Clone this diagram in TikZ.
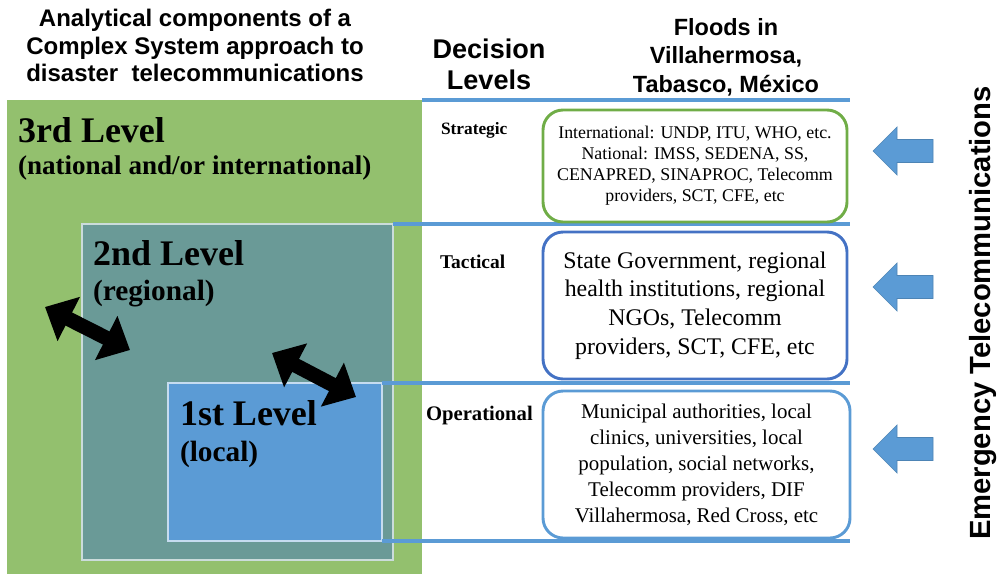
\documentclass[tikz,border=0pt]{standalone}
\usepackage{fontspec}
\setmainfont{Liberation Serif}
\newfontfamily\headfont{Liberation Sans}
\usepackage{tikz}
\usetikzlibrary{positioning, arrows.meta}

\definecolor{thirdgreen}{HTML}{93C06E}
\definecolor{secondteal}{HTML}{6A9A97}
\definecolor{firstblue}{HTML}{5B9BD5}
\definecolor{stratgreen}{HTML}{70AD47}
\definecolor{tactblue}{HTML}{4472C4}
\definecolor{operblue}{HTML}{5B9BD5}
\definecolor{ruleblue}{HTML}{5B9BD5}

\begin{document}
\begin{tikzpicture}[
        x = 0.75pt, y = -0.75pt,
        every node/.style = {inner sep = 0pt, outer sep = 0pt},
        heading/.style = {
            align = center,
            anchor = north,
            font = \headfont\bfseries\fontsize{18pt}{20.6pt}\selectfont
        },
        levelbox/.style = {rectangle, line width = 0.9pt},
        lvlhead/.style = {
            anchor = base west,
            font = \bfseries\fontsize{27pt}{30pt}\selectfont
        },
        lvlsub/.style = {
            anchor = base west,
            font = \bfseries\fontsize{22pt}{26pt}\selectfont
        },
        decision/.style = {
            anchor = base west,
            font = \bfseries\fontsize{14.6pt}{17pt}\selectfont
        },
        infobox/.style = {
            draw,
            rectangle,
            rounded corners = 15pt,
            line width = 2.2pt,
            align = center,
            minimum width = 228pt
        },
        rule/.style = {draw = ruleblue, line width = 2.3pt},
        linkarrow/.style = {
            line width = 11pt,
            {Triangle[length = 20pt, width = 36pt]}-{Triangle[length = 20pt, width = 36pt]}
        },
        inarrow/.style = {fill = firstblue, draw = firstblue!85!black, line width = 0.5pt}
    ]
        \useasboundingbox (0,0) rectangle (999,574);

        % nested levels
        \node[levelbox, fill = thirdgreen, minimum width = 311.25pt, minimum height = 355.5pt] (third) at (214.5,337) {};
        \node[levelbox, fill = secondteal, draw = white!65!secondteal, minimum width = 233.25pt, minimum height = 252pt] (second) at (237.5,392) {};
        \node[levelbox, fill = firstblue, draw = white!65!firstblue, minimum width = 160.5pt, minimum height = 118.5pt] (first) at (275,462) {};

        \node[lvlhead] (thirdname) at (18,143) {3rd Level};
        \node[lvlsub, font = \bfseries\fontsize{20.3pt}{24pt}\selectfont] (thirdscope) at (18,175) {(national and/or international)};
        \node[lvlhead] (secondname) at (93,265) {2nd Level};
        \node[lvlsub] (secondscope) at (93,300) {(regional)};
        \node[lvlhead] (firstname) at (180,425) {1st Level};
        \node[lvlsub] (firstscope) at (180,461) {(local)};

        % links between levels
        \coordinate (outerA) at (45,307);
        \coordinate (outerB) at (130,350);
        \coordinate (innerA) at (272,353);
        \coordinate (innerB) at (356,397);
        \draw[linkarrow] (outerA) -- (outerB);
        \draw[linkarrow] (innerA) -- (innerB);

        % headings
        \node[heading] (title) at (195,9.5) {Analytical components of a\\ Complex System approach to\\ disaster\ \ telecommunications};
        \node[heading, font = \headfont\bfseries\fontsize{20.3pt}{23.3pt}\selectfont] (levels) at (489,38.5) {Decision\\ Levels};
        \node[heading, font = \headfont\bfseries\fontsize{17.6pt}{21.4pt}\selectfont] (floods) at (726,18) {Floods in\\ Villahermosa,\\ Tabasco, México};

        % separating rules
        \coordinate (ruleend) at (850,0);
        \draw[rule] (third.north east) -- (third.north east -| ruleend);
        \draw[rule] (second.north east) -- (second.north east -| ruleend);
        \draw[rule] (first.north east) -- (first.north east -| ruleend);
        \draw[rule] (first.south east) -- (first.south east -| ruleend);

        % decision levels
        \node[decision, font = \bfseries\fontsize{13pt}{15pt}\selectfont] (strategic) at (441,135) {Strategic};
        \node[decision] (tactical) at (440,268) {Tactical};
        \node[decision, font = \bfseries\fontsize{15.5pt}{18pt}\selectfont] (operational) at (426,420) {Operational};

        \node[infobox, draw = stratgreen, minimum height = 84pt,
              font = \fontsize{13.4pt}{15.8pt}\selectfont] (stratbox) at (695,166) {
            International: UNDP, ITU, WHO, etc.\\
            National: IMSS, SEDENA, SS,\\
            CENAPRED, SINAPROC, Telecomm\\
            providers, SCT, CFE, etc
        };
        \node[infobox, draw = tactblue, minimum height = 110.25pt,
              font = \fontsize{17.9pt}{21.4pt}\selectfont] (tactbox) at (695,305.5) {
            State Government, regional\\
            health institutions, regional\\
            NGOs, Telecomm\\
            providers, SCT, CFE, etc
        };
        \node[infobox, draw = operblue, minimum width = 230.25pt, minimum height = 110.25pt,
              font = \fontsize{15.7pt}{19.5pt}\selectfont] (operbox) at (696.5,464.5) {
            Municipal authorities, local\\
            clinics, universities, local\\
            population, social networks,\\
            Telecomm providers, DIF\\
            Villahermosa, Red Cross, etc
        };

        % incoming emergency telecommunications
        \foreach \cy in {151, 287, 449} {
            \filldraw[inarrow] (873,\cy) -- (897,\cy-24) -- (897,\cy-11.5) -- (933,\cy-11.5)
                -- (933,\cy+11.5) -- (897,\cy+11.5) -- (897,\cy+24) -- cycle;
        }
        \node[anchor = base, rotate = 90, font = \headfont\bfseries\fontsize{21.9pt}{24pt}\selectfont] (emergency) at (990,313) {Emergency Telecommunications};
\end{tikzpicture}
\end{document}
